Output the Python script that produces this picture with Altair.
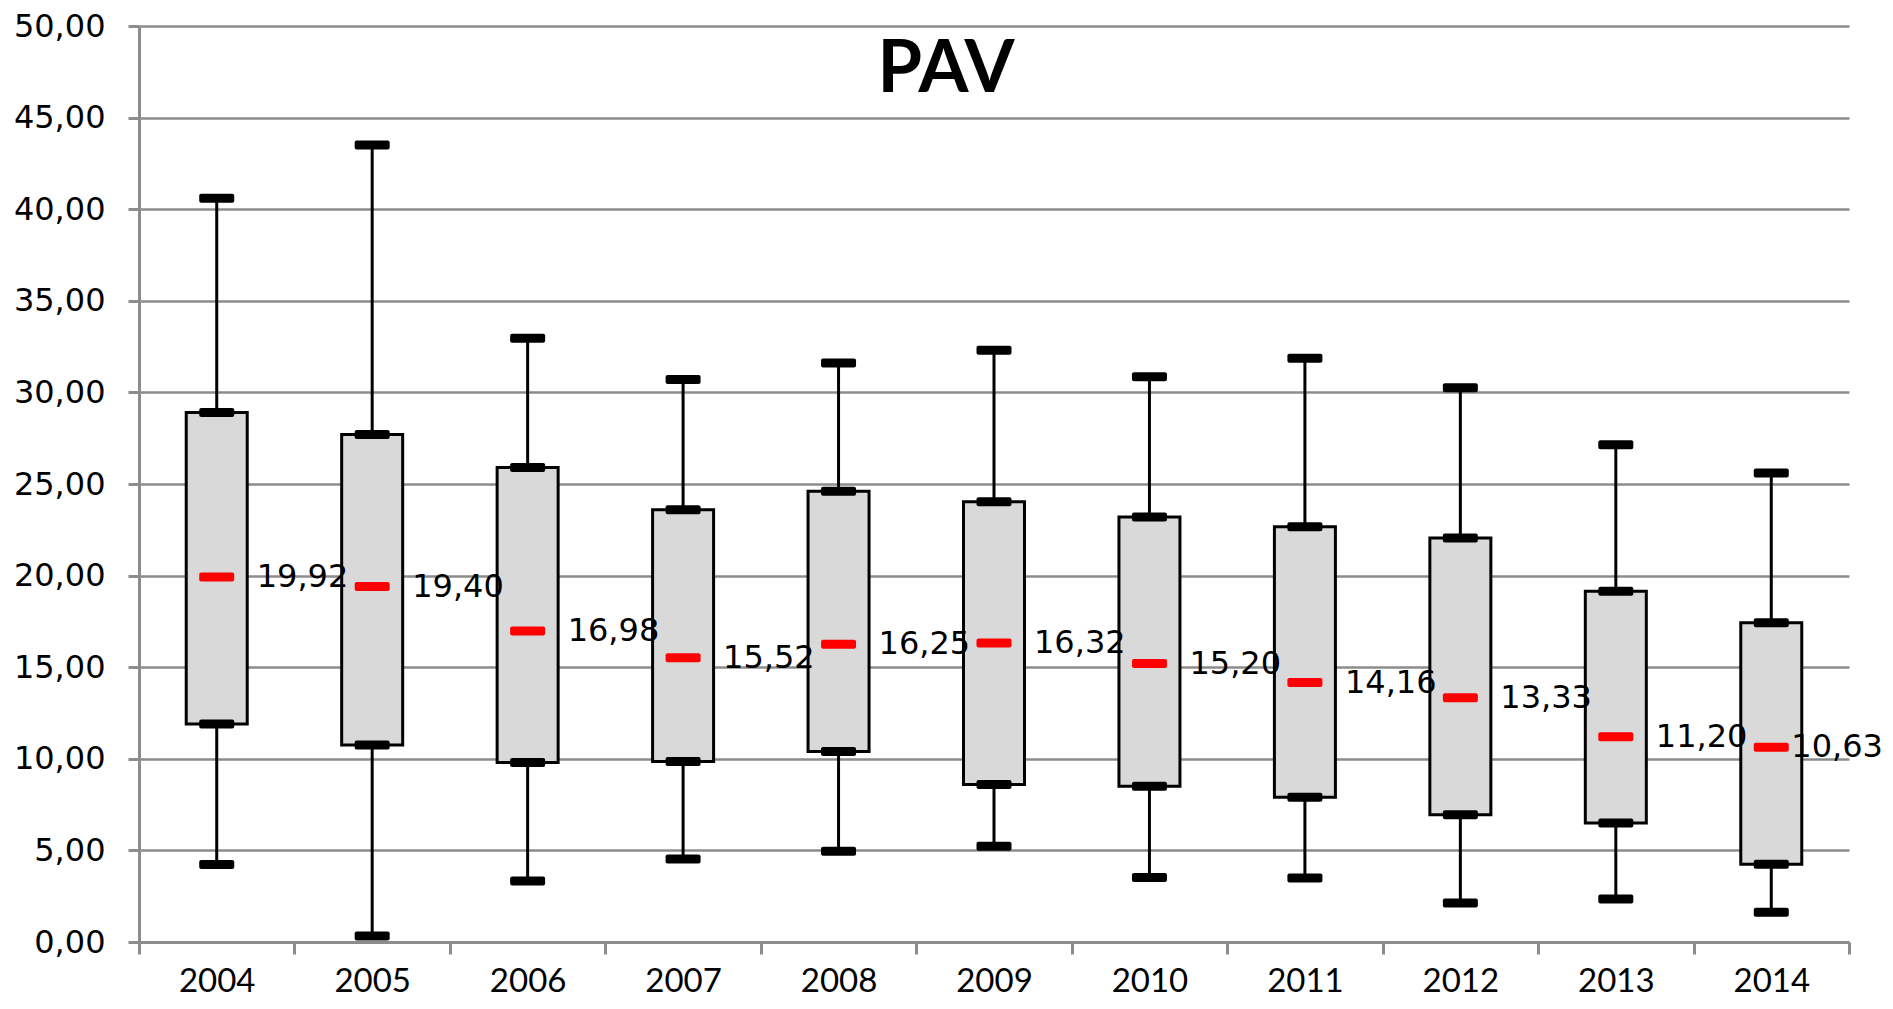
import altair as alt
import pandas as pd

years = ["2004", "2005", "2006", "2007", "2008", "2009", "2010", "2011", "2012", "2013", "2014"]
mins = [4.23, 0.33, 3.33, 4.53, 4.95, 5.23, 3.52, 3.50, 2.13, 2.35, 1.63]
q1s = [11.90, 10.75, 9.80, 9.85, 10.40, 8.60, 8.50, 7.90, 6.95, 6.50, 4.25]
medians = [19.92, 19.40, 16.98, 15.52, 16.25, 16.32, 15.20, 14.16, 13.33, 11.20, 10.63]
q3s = [28.90, 27.70, 25.90, 23.60, 24.60, 24.03, 23.20, 22.67, 22.05, 19.15, 17.43]
maxs = [40.60, 43.50, 32.95, 30.70, 31.60, 32.30, 30.86, 31.86, 30.26, 27.14, 25.60]
title_text = "PAV"

df = pd.DataFrame({
    "year": years, "min": mins, "q1": q1s, "median": medians, "q3": q3s, "max": maxs,
})

GRID = "#8c8c8c"

x = alt.X(
    "year:N",
    sort=years,
    scale=alt.Scale(paddingInner=0, paddingOuter=0),
    axis=alt.Axis(
        title=None, labelAngle=0, tickBand="extent", grid=False,
        labelFont="Lato", labelFontSize=33, labelColor="#000000", labelPadding=11,
        domainColor=GRID, domainWidth=3, tickColor=GRID, tickWidth=3, tickSize=12,
    ),
)
y_scale = alt.Scale(domain=[0, 50], nice=False, zero=True)
y_axis = alt.Axis(
    title=None, values=list(range(0, 51, 5)),
    labelExpr="replace(format(datum.value, '.2f'), '.', ',')",
    labelFont="DejaVu Sans", labelFontSize=32, labelColor="#000000", labelPadding=23,
    domainColor=GRID, domainWidth=3, tickColor=GRID, tickWidth=3, tickSize=11,
    grid=True, gridColor=GRID, gridWidth=2.5,
)

base = alt.Chart(df)

whisker = base.mark_rule(color="black", strokeWidth=3).encode(
    x=x, y=alt.Y("min:Q", scale=y_scale, axis=y_axis), y2="max:Q"
)
box = base.mark_bar(size=61, fill="#d9d9d9", stroke="black", strokeWidth=3).encode(
    x=x, y=alt.Y("q1:Q", scale=y_scale), y2="q3:Q"
)
caps = base.transform_fold(["min", "q1", "q3", "max"], as_=["stat", "val"]).mark_tick(
    size=35, thickness=9, color="black", cornerRadius=2, opacity=1
).encode(x=x, y=alt.Y("val:Q", scale=y_scale))
med = base.mark_tick(size=35, thickness=9, color="#ff0000", cornerRadius=2, opacity=1).encode(
    x=x, y=alt.Y("median:Q", scale=y_scale)
)
label_base = base.transform_calculate(
    lab="replace(format(datum.median, '.2f'), '.', ',')"
)
labels = label_base.transform_filter("datum.year != '2014'").mark_text(
    align="left", baseline="middle", dx=40, font="DejaVu Sans", fontSize=32, color="black"
).encode(x=x, y=alt.Y("median:Q", scale=y_scale), text="lab:N")
labels_last = label_base.transform_filter("datum.year == '2014'").mark_text(
    align="left", baseline="middle", dx=20, font="DejaVu Sans", fontSize=32, color="black"
).encode(x=x, y=alt.Y("median:Q", scale=y_scale), text="lab:N")

title = alt.Chart(pd.DataFrame({"t": [title_text]})).mark_text(
    align="center", baseline="alphabetic", font="Lato", fontWeight="bold", fontSize=72, color="black"
).encode(x=alt.value(807), y=alt.value(66), text="t:N")

chart = alt.layer(whisker, box, caps, med, labels, labels_last, title).properties(
    width=1710, height=916,
    autosize=alt.AutoSizeParams(type="none"),
    padding={"left": 131, "top": 18, "right": 36, "bottom": 59},
).configure_view(stroke=None)

chart.save("out.html", embed_options={"renderer": "svg", "actions": False})
